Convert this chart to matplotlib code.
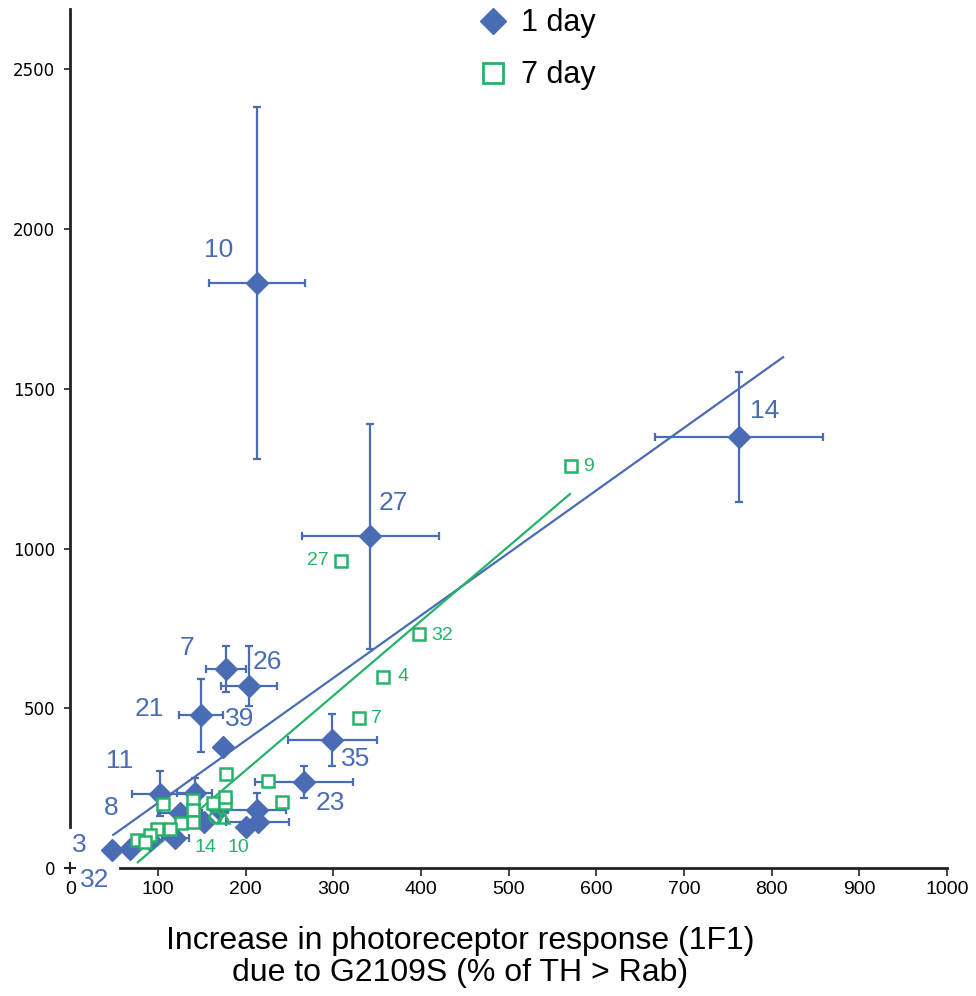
import matplotlib.pyplot as plt
from matplotlib.lines import Line2D
import numpy as np

# 1 day points (diamonds)
x1 = [213, 763, 342, 178, 204, 149, 174, 299, 267, 102, 142, 125, 213, 214, 201, 152, 120, 91, 48, 68, 170]
y1 = [1831, 1349, 1039, 623, 570, 479, 379, 401, 269, 232, 235, 172, 182, 144, 128, 144, 94, 88, 56, 59, 185]
x1err = [55, 96, 78, 23, 32, 25, 0, 51, 56, 32, 20, 25, 33, 36, 0, 0, 15, 0, 0, 0, 0]
y1err_lo = [550, 202, 352, 73, 63, 116, 0, 82, 50, 70, 50, 0, 40, 0, 0, 0, 0, 0, 0, 0, 0]
y1err_hi = [550, 202, 352, 73, 125, 113, 0, 82, 50, 72, 47, 0, 53, 0, 0, 0, 0, 0, 0, 0, 0]
names1 = ['10', '14', '27', '7', '26', '21', '39', '35', '23', '11', '', '', '', '', '', '', '', '8', '3', '32', '']

# 7 day points (open squares)
x7 = [571, 309, 398, 357, 329, 178, 225, 242, 106, 140, 140, 163, 176, 176, 140, 126, 114, 99, 91, 76, 85]
y7 = [1258, 961, 732, 598, 469, 294, 272, 207, 200, 213, 182, 203, 203, 222, 144, 141, 122, 122, 103, 88, 81]
names7 = ['9', '27', '32', '4', '7', '', '', '', '', '', '', '10', '', '', '', '14', '', '', '', '', '']

# other small markers in the cluster
xc, yc = [165], [160]
xt, yt = [174], [160]

# linear fits (slope, intercept, x range)
fit1 = (1.957, 7.7, 49, 813)
fit7 = (2.338, -162, 77, 570)

xticks = [0, 100, 200, 300, 400, 500, 600, 700, 800, 900, 1000]
yticks = [0, 500, 1000, 1500, 2000, 2500]

blue = '#4a6cb5'
green = '#25b36a'
dark = '#222222'

# label offsets in points
off1 = {'10': (-28, 24), '14': (18, 19), '27': (17, 24), '7': (-28, 15), '26': (13, 17),
        '21': (-37, 4), '39': (12, 20), '35': (17, -14), '23': (19, -15), '11': (-29, 24),
        '8': (-28, 23), '3': (-24, 4), '32': (-25, -22)}
off7 = {'9': (9, 0, 'left'), '27': (-9, 0, 'right'), '32': (9, -1, 'left'), '4': (10, 0, 'left'),
        '7': (9, 0, 'left'), '14': (18, -18, 'center'), '10': (18, -32, 'center')}

plt.rcParams['font.family'] = ['Liberation Sans', 'DejaVu Sans']

fig = plt.figure(figsize=(9.76, 9.96), dpi=100)
ax = fig.add_axes([0.072, 0.1285, 0.8983, 0.8629])

# regression lines
xx = np.array(fit1[2:])
ax.plot(xx, fit1[0] * xx + fit1[1], color=blue, lw=1.6, zorder=2)
xx = np.array(fit7[2:])
ax.plot(xx, fit7[0] * xx + fit7[1], color=green, lw=1.6, zorder=2)

ax.errorbar(x1, y1, xerr=x1err, yerr=[y1err_lo, y1err_hi], fmt='D', color=blue,
            ms=11, mec=blue, elinewidth=1.6, capsize=3, capthick=1.6, zorder=3)
ax.plot(x7, y7, 's', ms=8.5, mfc='white', mec=green, mew=1.8, zorder=4)
ax.plot(xc, yc, 'o', ms=8.5, mfc='none', mec=green, mew=1.8, zorder=4)
ax.plot(xt, yt, '^', ms=8.5, mfc='none', mec=green, mew=1.8, zorder=4)

for x, y, n in zip(x1, y1, names1):
    if n:
        ax.annotate(n, (x, y), xytext=off1[n], textcoords='offset points', ha='center',
                    va='center', fontsize=19, color=blue, annotation_clip=False)
for x, y, n in zip(x7, y7, names7):
    if n:
        dx, dy, ha = off7[n]
        ax.annotate(n, (x, y), xytext=(dx, dy), textcoords='offset points', ha=ha,
                    va='center', fontsize=14, color=green, annotation_clip=False)

ax.set_xlim(0, 1000)
ax.set_ylim(0, 2690)
ax.set_xticks(xticks)
ax.set_yticks(yticks)
ax.set_xticklabels([str(t) for t in xticks], fontsize=14)
ax.set_yticklabels([str(t) for t in yticks], family='DejaVu Sans', fontsize=12)
ax.tick_params(axis='x', length=6, width=1.2, pad=3, color=dark)
ax.tick_params(axis='y', length=4, width=1.2, pad=7, color=dark)
ax.xaxis.get_major_ticks()[0].tick1line.set_visible(False)
ax.yaxis.get_major_ticks()[0].tick1line.set_visible(False)
ax.plot([0], [0], '+', ms=8, mew=1.5, color=dark, clip_on=False)

for s in ['top', 'right']:
    ax.spines[s].set_visible(False)
ax.spines['left'].set_bounds(128, 2690)
ax.spines['bottom'].set_bounds(57, 1000)
for s in ['left', 'bottom']:
    ax.spines[s].set_linewidth(2)
    ax.spines[s].set_color(dark)

ax.set_xlabel('Increase in photoreceptor response (1F1)\ndue to G2109S (% of TH > Rab)',
              fontsize=23, linespacing=1.1)
ax.xaxis.set_label_coords(0.445, -0.067, transform=ax.transAxes)
ax.xaxis.label.set_va('top')

handles = [Line2D([], [], ls='none', marker='D', ms=13, color=blue),
           Line2D([], [], ls='none', marker='s', ms=14, mfc='white', mec=green, mew=2)]
fig.legend(handles, ['1 day', '7 day'], loc='upper left', bbox_to_anchor=(0.474, 1.007),
           frameon=False, fontsize=22, handlelength=1, handletextpad=0.4, borderpad=0,
           labelspacing=0.72)

fig.savefig('out.png', dpi=100)
